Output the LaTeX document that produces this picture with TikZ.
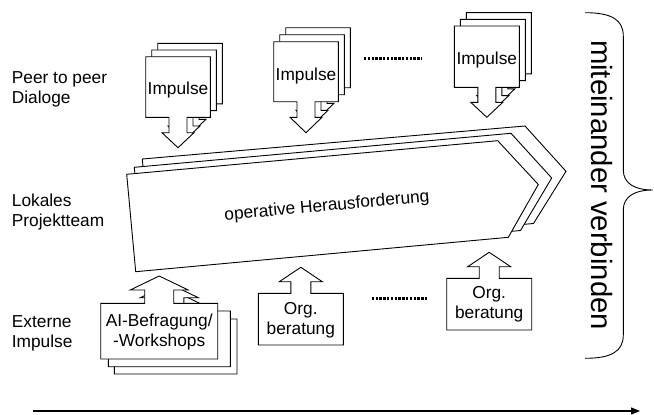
\documentclass[tikz,border=0pt]{standalone}
\usepackage{fontspec}
\setmainfont{Liberation Sans}
\usetikzlibrary{arrows.meta}

% sheet with an arrow pointing down below its box: x1 y1 x2 y2 shaft-half shaft-len head-half head-len
\newcommand{\dncall}[8]{%
  \filldraw[sheet] (#1,#2) -- (#3,#2) -- (#3,#4)
    -- ({(#1+#3)/2+#5},#4) -- ({(#1+#3)/2+#5},{#4+#6})
    -- ({(#1+#3)/2+#7},{#4+#6}) -- ({(#1+#3)/2},{#4+#6+#8})
    -- ({(#1+#3)/2-#7},{#4+#6}) -- ({(#1+#3)/2-#5},{#4+#6})
    -- ({(#1+#3)/2-#5},#4) -- (#1,#4) -- cycle;}
% sheet with an arrow pointing up above its box
\newcommand{\upcall}[8]{%
  \filldraw[sheet] (#1,#4) -- (#1,#2)
    -- ({(#1+#3)/2-#5},#2) -- ({(#1+#3)/2-#5},{#2-#6})
    -- ({(#1+#3)/2-#7},{#2-#6}) -- ({(#1+#3)/2},{#2-#6-#8})
    -- ({(#1+#3)/2+#7},{#2-#6}) -- ({(#1+#3)/2+#5},{#2-#6})
    -- ({(#1+#3)/2+#5},#2) -- (#3,#2) -- (#3,#4) -- cycle;}

\tikzset{
  sheet/.style={draw=black, fill=white, line width=0.9pt, line join=miter},
  txt/.style={font=\fontsize{17.3}{20}\selectfont, align=center, inner sep=0pt},
  side/.style={font=\fontsize{17.3}{20}\selectfont, align=left, inner sep=0pt, anchor=west},
  dotline/.style={line width=2.6pt, dash pattern=on 2.4pt off 1.4pt},
}

\begin{document}
\begin{tikzpicture}[x=1pt, y=-1pt]
\useasboundingbox (0,0) rectangle (654,415);

% row labels
\node[side] (lpeer) at (11.7,89) {Peer to peer\\Dialoge};
\node[side] (lteam) at (11.7,212) {Lokales\\Projektteam};
\node[side] (lext)  at (11.7,333) {Externe\\Impulse};

% impulse stacks (back sheets first)
\dncall{157.7}{43.3}{222.3}{103.9}{9}{15.4}{16}{15}
\dncall{151.7}{50}{216.3}{110.6}{9}{15.4}{16}{15}
\dncall{145.7}{56.7}{210.3}{117.3}{9}{15.4}{16}{15}
\node[txt] (imp1) at (178,90) {Impulse};

\dncall{285.7}{27.7}{350.3}{87.7}{9}{15.6}{16}{15.4}
\dncall{279.7}{34.7}{344.3}{94.7}{9}{15.6}{16}{15.4}
\dncall{273.7}{41.7}{338.3}{101.7}{9}{15.6}{16}{15.4}
\node[txt] (imp2) at (306,76) {Impulse};

\dncall{466.3}{12.6}{531.3}{73.9}{9}{15}{16}{15}
\dncall{460.3}{19.3}{525.3}{80.6}{9}{15}{16}{15}
\dncall{454.3}{26}{519.3}{87.3}{9}{15}{16}{15}
\node[txt] (imp3) at (486.8,60) {Impulse};

\coordinate (dotA1) at (364,58.3);
\coordinate (dotA2) at (422,58.3);
\draw[dotline] (dotA1) -- (dotA2);

% project team: three stacked signal shapes
\filldraw[sheet] (142.3,159) -- (525,126) -- (566,171.3) -- (533.5,223.5) -- (151.3,256.4) -- cycle;
\filldraw[sheet] (134.3,167.3) -- (511,133.3) -- (551.7,178) -- (520.5,230.5) -- (143.3,264.7) -- cycle;
\filldraw[sheet] (126.7,174.3) -- (497.7,140.7) -- (538.3,184.5) -- (508.3,237.3) -- (135.7,271.7) -- cycle;
\node[txt, rotate=5.2] (task) at (327,206.5) {operative Herausforderung};

% external impulses
\upcall{114.3}{319}{237}{374}{14.5}{13.3}{29}{14}
\upcall{108.3}{311}{230.3}{366.7}{14.5}{13.3}{29}{14}
\upcall{100.7}{303.3}{217.7}{359}{14.5}{13.3}{29}{14}
\node[txt] (ai) at (159.2,332) {AI-Befragung/\\-Workshops};

\upcall{258.3}{293.3}{343.3}{345}{10}{11.6}{21.5}{14.4}
\node[txt] (org1) at (300.8,320) {Org.\\beratung};

\coordinate (dotB1) at (371.7,298.3);
\coordinate (dotB2) at (426.7,298.3);
\draw[dotline] (dotB1) -- (dotB2);

\upcall{446.7}{278.3}{531.7}{330}{10}{11.6}{21.5}{14.4}
\node[txt] (org2) at (489.2,304.5) {Org.\\beratung};

% brace with its caption
\draw[line width=0.9pt] (585,12.7) .. controls (612,12.7) and (623.3,20) .. (623.3,36)
  -- (623.3,170) .. controls (623.3,183) and (634,190) .. (653,190)
  .. controls (634,190) and (623.3,197) .. (623.3,210)
  -- (623.3,335) .. controls (623.3,351) and (612,358.3) .. (585,358.3);
\node[font=\fontsize{29.3}{30}\selectfont, inner sep=0pt, rotate=-90] (link) at (602,185) {miteinander verbinden};

% time axis
\coordinate (t0) at (33,411);
\coordinate (t1) at (640,411);
\draw[line width=1.2pt, -{Triangle[length=9pt,width=7pt]}] (t0) -- (t1);
\end{tikzpicture}
\end{document}
